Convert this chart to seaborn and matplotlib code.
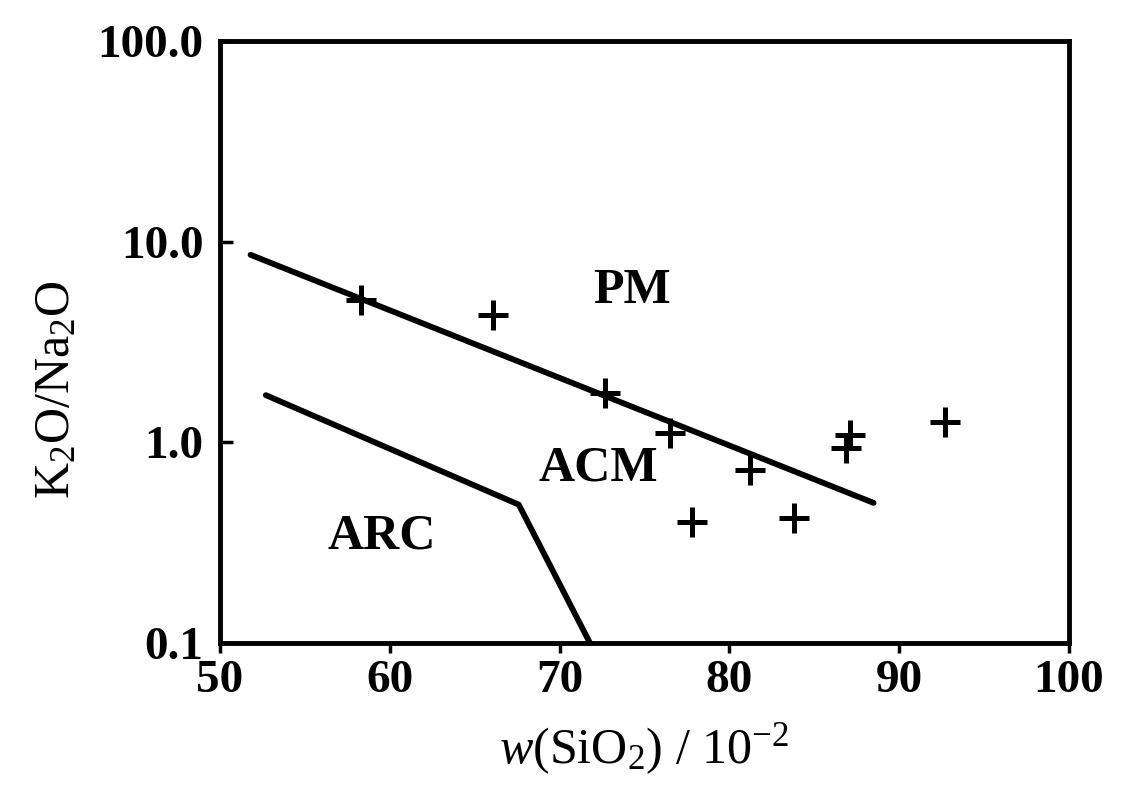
import numpy as np
import pandas as pd
import matplotlib
matplotlib.use("Agg")
import matplotlib.pyplot as plt
import seaborn as sns

# sample points
sio2 = [58.3, 66.1, 72.7, 76.5, 81.2, 77.8, 83.8, 87.1, 86.9, 92.7]
k2o_na2o = [5.1, 4.3, 1.76, 1.11, 0.73, 0.40, 0.42, 1.09, 0.94, 1.26]

# discrimination boundaries
pm_line_x = [51.8, 88.5]
pm_line_y = [8.6, 0.50]
arc_line_x = [52.7, 67.6, 71.8]
arc_line_y = [1.72, 0.49, 0.10]

# field labels
field_names = ["PM", "ACM", "ARC"]
field_x = [74.3, 72.3, 59.5]
field_y = [5.7, 0.745, 0.34]

x_ticks = [50, 60, 70, 80, 90, 100]
y_ticks = [0.1, 1.0, 10.0, 100.0]
y_tick_labels = ["0.1", "1.0", "10.0", "100.0"]

sns.set_style("white")
plt.rcParams["font.family"] = ["Liberation Serif", "DejaVu Serif"]
plt.rcParams["text.color"] = "black"
plt.rcParams["axes.labelcolor"] = "black"
plt.rcParams["xtick.color"] = "black"
plt.rcParams["ytick.color"] = "black"
plt.rcParams["xtick.bottom"] = True
plt.rcParams["ytick.left"] = True
plt.rcParams["mathtext.fontset"] = "custom"
plt.rcParams["mathtext.rm"] = "Liberation Serif"
plt.rcParams["mathtext.it"] = "Liberation Serif:italic"
plt.rcParams["mathtext.bf"] = "Liberation Serif:bold"

fig = plt.figure(figsize=(11.31, 8.02), dpi=100)
ax = fig.add_axes([0.1945, 0.198, 0.7505, 0.751])

pts = pd.DataFrame({"x": sio2, "y": k2o_na2o})
sns.scatterplot(data=pts, x="x", y="y", marker="+", s=440, color="black",
                linewidth=3.6, ax=ax, zorder=3)

pm = pd.DataFrame({"x": pm_line_x, "y": pm_line_y})
arc = pd.DataFrame({"x": arc_line_x, "y": arc_line_y})
sns.lineplot(data=pm, x="x", y="y", color="black", linewidth=4.2, sort=False, ax=ax)
sns.lineplot(data=arc, x="x", y="y", color="black", linewidth=4.2, sort=False, ax=ax)

for name, fx, fy in zip(field_names, field_x, field_y):
    ax.text(fx, fy, name, ha="center", va="center", fontsize=36,
            fontweight="bold", color="black")

ax.set_yscale("log")
ax.set_xlim(50, 100)
ax.set_ylim(0.1, 100)
ax.set_xticks(x_ticks)
ax.set_xticklabels([str(t) for t in x_ticks])
ax.set_yticks(y_ticks)
ax.set_yticklabels(y_tick_labels)
ax.yaxis.set_minor_locator(matplotlib.ticker.NullLocator())

for sp in ax.spines.values():
    sp.set_linewidth(3.5)
    sp.set_color("black")

ax.tick_params(axis="x", direction="out", length=7, width=2.5, pad=5,
               labelsize=34, colors="black")
ax.tick_params(axis="y", direction="in", length=9, width=2.5, pad=12,
               labelsize=34, colors="black")
for lab in ax.get_xticklabels() + ax.get_yticklabels():
    lab.set_fontweight("bold")

ax.set_xlabel(r"$\mathit{w}$(SiO$_2$) / 10$^{-2}$", fontsize=36, labelpad=14)
ax.set_ylabel(r"K$_2$O/Na$_2$O", fontsize=36)
ax.yaxis.set_label_coords(-0.165, 0.42)

fig.savefig("out.png", dpi=100)
